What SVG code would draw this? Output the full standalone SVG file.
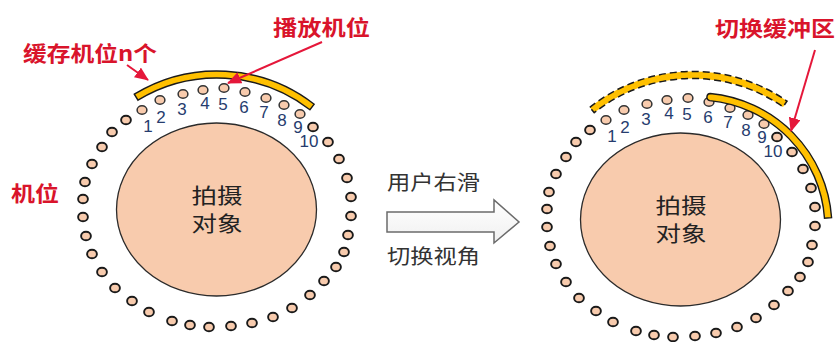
<svg xmlns="http://www.w3.org/2000/svg" width="837" height="342" viewBox="0 0 837 342">
<style>
.bg{fill:#ffffff}
.obj{fill:#F8CBAD;stroke:#2b2b2b;stroke-width:1.3}
.dot{fill:#F8CBAD;stroke:#1a1a1a;stroke-width:1.9}
.ndot{fill:#F8CBAD;stroke:#333;stroke-width:1.5}
.band{fill:#FFC000;stroke:#1a1a1a;stroke-width:1.4}
.dband{fill:#FFC000;stroke:#1a1a1a;stroke-width:1.5;stroke-dasharray:7 4}
.red{font-family:"Noto Sans CJK SC","Noto Sans",sans-serif;font-weight:bold;font-size:21px;fill:#D9142B}
.cn{font-family:"Noto Sans CJK SC","Noto Sans",sans-serif;font-size:21px;fill:#222}
.mid{font-family:"Noto Sans CJK SC","Noto Sans",sans-serif;font-size:20px;fill:#333}
.num{font-family:"Liberation Sans",Arial,sans-serif;font-size:17px;fill:#263C6E;text-anchor:middle}
.rarr{stroke:#E5173A;stroke-width:2;fill:none}
.blk{fill:url(#ag);stroke:#6b6b6b;stroke-width:1.5}
</style>
<defs>
<marker id="rh" markerUnits="userSpaceOnUse" markerWidth="14" markerHeight="12" refX="13" refY="6" orient="auto">
<path d="M0,0 L14,6 L0,12 Z" fill="#E5173A"/>
</marker>
<linearGradient id="ag" x1="0" y1="0" x2="0" y2="1">
<stop offset="0" stop-color="#ffffff"/>
<stop offset="1" stop-color="#f0f0f0"/>
</linearGradient>
</defs>
<rect class="bg" x="0" y="0" width="837" height="342"/>

<g id="left-view">
<g id="left-object">
<ellipse class="obj" cx="216.5" cy="209.5" rx="100" ry="86.5"/>
<text class="cn" x="217" y="203" text-anchor="middle" textLength="51" lengthAdjust="spacingAndGlyphs">拍摄</text>
<text class="cn" x="217" y="231" text-anchor="middle" textLength="51" lengthAdjust="spacingAndGlyphs">对象</text>
</g>
<g id="left-positions">
<ellipse class="ndot" cx="142" cy="110" rx="4.9" ry="4.3"/>
<ellipse class="ndot" cx="160" cy="100" rx="4.9" ry="4.3"/>
<ellipse class="ndot" cx="183" cy="94" rx="4.9" ry="4.3"/>
<ellipse class="ndot" cx="203" cy="90" rx="4.9" ry="4.3"/>
<ellipse class="ndot" cx="224" cy="88" rx="4.9" ry="4.3"/>
<ellipse class="ndot" cx="245" cy="92" rx="4.9" ry="4.3"/>
<ellipse class="ndot" cx="266" cy="98" rx="4.9" ry="4.3"/>
<ellipse class="ndot" cx="284" cy="105" rx="4.9" ry="4.3"/>
<ellipse class="ndot" cx="300" cy="114" rx="4.9" ry="4.3"/>
<ellipse class="dot" cx="313" cy="127" rx="4.9" ry="4.3"/>
<ellipse class="dot" cx="328" cy="142" rx="4.9" ry="4.3"/>
<ellipse class="dot" cx="339" cy="159" rx="4.9" ry="4.3"/>
<ellipse class="dot" cx="347" cy="178" rx="4.9" ry="4.3"/>
<ellipse class="dot" cx="351" cy="197" rx="4.9" ry="4.3"/>
<ellipse class="dot" cx="351" cy="216" rx="4.9" ry="4.3"/>
<ellipse class="dot" cx="348" cy="235" rx="4.9" ry="4.3"/>
<ellipse class="dot" cx="344" cy="252" rx="4.9" ry="4.3"/>
<ellipse class="dot" cx="336" cy="267" rx="4.9" ry="4.3"/>
<ellipse class="dot" cx="324" cy="281" rx="4.9" ry="4.3"/>
<ellipse class="dot" cx="310" cy="295" rx="4.9" ry="4.3"/>
<ellipse class="dot" cx="292" cy="308" rx="4.9" ry="4.3"/>
<ellipse class="dot" cx="273" cy="317" rx="4.9" ry="4.3"/>
<ellipse class="dot" cx="252" cy="323" rx="4.9" ry="4.3"/>
<ellipse class="dot" cx="231" cy="326" rx="4.9" ry="4.3"/>
<ellipse class="dot" cx="209" cy="327" rx="4.9" ry="4.3"/>
<ellipse class="dot" cx="190" cy="325" rx="4.9" ry="4.3"/>
<ellipse class="dot" cx="172" cy="321" rx="4.9" ry="4.3"/>
<ellipse class="dot" cx="149" cy="312" rx="4.9" ry="4.3"/>
<ellipse class="dot" cx="132" cy="301" rx="4.9" ry="4.3"/>
<ellipse class="dot" cx="115" cy="288" rx="4.9" ry="4.3"/>
<ellipse class="dot" cx="102" cy="272" rx="4.9" ry="4.3"/>
<ellipse class="dot" cx="92" cy="254" rx="4.9" ry="4.3"/>
<ellipse class="dot" cx="86" cy="236" rx="4.9" ry="4.3"/>
<ellipse class="dot" cx="83" cy="217" rx="4.9" ry="4.3"/>
<ellipse class="dot" cx="83" cy="199" rx="4.9" ry="4.3"/>
<ellipse class="dot" cx="85" cy="182" rx="4.9" ry="4.3"/>
<ellipse class="dot" cx="92" cy="164" rx="4.9" ry="4.3"/>
<ellipse class="dot" cx="102" cy="147" rx="4.9" ry="4.3"/>
<ellipse class="dot" cx="112" cy="132" rx="4.9" ry="4.3"/>
<ellipse class="dot" cx="126" cy="120" rx="4.9" ry="4.3"/>
</g>
<g id="left-numbers">
<text class="num" x="148" y="132">1</text>
<text class="num" x="161" y="123">2</text>
<text class="num" x="182" y="115">3</text>
<text class="num" x="205" y="109">4</text>
<text class="num" x="223" y="110">5</text>
<text class="num" x="244" y="113">6</text>
<text class="num" x="264" y="118">7</text>
<text class="num" x="282" y="126">8</text>
<text class="num" x="298" y="133">9</text>
<text class="num" x="309" y="147">10</text>
</g>
<g id="left-cache-band">
<path class="band" d="M134.3,94.2 A159,159 0 0 1 314.2,104.2 L309.9,109.7 A152,152 0 0 0 138,100.2 Z"/>
</g>
<g id="label-cache"><text class="red" x="23" y="61" textLength="134" lengthAdjust="spacingAndGlyphs">缓存机位n个</text></g>
<g id="label-play"><text class="red" x="273" y="35" textLength="97" lengthAdjust="spacingAndGlyphs">播放机位</text></g>
<g id="label-position"><text class="red" x="11" y="201" textLength="48" lengthAdjust="spacingAndGlyphs">机位</text></g>
</g>

<g id="middle-arrow">
<text class="mid" x="387" y="190" textLength="93" lengthAdjust="spacingAndGlyphs">用户右滑</text>
<polygon class="blk" points="387,212 494,212 494,200 519,222 494,243 494,232 387,232"/>
<text class="mid" x="387" y="264" textLength="93" lengthAdjust="spacingAndGlyphs">切换视角</text>
</g>

<g id="right-view">
<g id="right-object">
<ellipse class="obj" cx="680.5" cy="219.5" rx="100" ry="86.5"/>
<text class="cn" x="681" y="213" text-anchor="middle" textLength="51" lengthAdjust="spacingAndGlyphs">拍摄</text>
<text class="cn" x="681" y="241" text-anchor="middle" textLength="51" lengthAdjust="spacingAndGlyphs">对象</text>
</g>
<g id="right-dashed-band">
<path class="dband" d="M589.8,107.3 A165.2,165.2 0 0 1 787,101.1 L783,106.9 A158.2,158.2 0 0 0 594.2,112.7 Z"/>
</g>
<g id="right-positions">
<ellipse class="ndot" cx="606" cy="120" rx="4.9" ry="4.3"/>
<ellipse class="ndot" cx="624" cy="110" rx="4.9" ry="4.3"/>
<ellipse class="ndot" cx="647" cy="104" rx="4.9" ry="4.3"/>
<ellipse class="ndot" cx="667" cy="100" rx="4.9" ry="4.3"/>
<ellipse class="ndot" cx="688" cy="98" rx="4.9" ry="4.3"/>
<ellipse class="ndot" cx="709" cy="102" rx="4.9" ry="4.3"/>
<ellipse class="ndot" cx="730" cy="108" rx="4.9" ry="4.3"/>
<ellipse class="ndot" cx="748" cy="115" rx="4.9" ry="4.3"/>
<ellipse class="ndot" cx="764" cy="124" rx="4.9" ry="4.3"/>
<ellipse class="dot" cx="777" cy="137" rx="4.9" ry="4.3"/>
<ellipse class="dot" cx="792" cy="152" rx="4.9" ry="4.3"/>
<ellipse class="dot" cx="803" cy="169" rx="4.9" ry="4.3"/>
<ellipse class="dot" cx="811" cy="188" rx="4.9" ry="4.3"/>
<ellipse class="dot" cx="815" cy="207" rx="4.9" ry="4.3"/>
<ellipse class="dot" cx="815" cy="226" rx="4.9" ry="4.3"/>
<ellipse class="dot" cx="812" cy="245" rx="4.9" ry="4.3"/>
<ellipse class="dot" cx="808" cy="262" rx="4.9" ry="4.3"/>
<ellipse class="dot" cx="800" cy="277" rx="4.9" ry="4.3"/>
<ellipse class="dot" cx="788" cy="291" rx="4.9" ry="4.3"/>
<ellipse class="dot" cx="774" cy="305" rx="4.9" ry="4.3"/>
<ellipse class="dot" cx="756" cy="318" rx="4.9" ry="4.3"/>
<ellipse class="dot" cx="737" cy="327" rx="4.9" ry="4.3"/>
<ellipse class="dot" cx="716" cy="333" rx="4.9" ry="4.3"/>
<ellipse class="dot" cx="695" cy="336" rx="4.9" ry="4.3"/>
<ellipse class="dot" cx="673" cy="337" rx="4.9" ry="4.3"/>
<ellipse class="dot" cx="654" cy="335" rx="4.9" ry="4.3"/>
<ellipse class="dot" cx="636" cy="331" rx="4.9" ry="4.3"/>
<ellipse class="dot" cx="613" cy="322" rx="4.9" ry="4.3"/>
<ellipse class="dot" cx="596" cy="311" rx="4.9" ry="4.3"/>
<ellipse class="dot" cx="579" cy="298" rx="4.9" ry="4.3"/>
<ellipse class="dot" cx="566" cy="282" rx="4.9" ry="4.3"/>
<ellipse class="dot" cx="556" cy="264" rx="4.9" ry="4.3"/>
<ellipse class="dot" cx="550" cy="246" rx="4.9" ry="4.3"/>
<ellipse class="dot" cx="547" cy="227" rx="4.9" ry="4.3"/>
<ellipse class="dot" cx="547" cy="209" rx="4.9" ry="4.3"/>
<ellipse class="dot" cx="549" cy="192" rx="4.9" ry="4.3"/>
<ellipse class="dot" cx="556" cy="174" rx="4.9" ry="4.3"/>
<ellipse class="dot" cx="566" cy="157" rx="4.9" ry="4.3"/>
<ellipse class="dot" cx="576" cy="142" rx="4.9" ry="4.3"/>
<ellipse class="dot" cx="590" cy="130" rx="4.9" ry="4.3"/>
</g>
<g id="right-numbers">
<text class="num" x="612" y="142">1</text>
<text class="num" x="625" y="133">2</text>
<text class="num" x="646" y="125">3</text>
<text class="num" x="669" y="119">4</text>
<text class="num" x="687" y="120">5</text>
<text class="num" x="708" y="123">6</text>
<text class="num" x="728" y="128">7</text>
<text class="num" x="746" y="136">8</text>
<text class="num" x="762" y="143">9</text>
<text class="num" x="773" y="157">10</text>
</g>
<g id="right-switch-band">
<path class="band" d="M710.3,93.5 A134.3,134.3 0 0 1 831.6,217.7 L824.5,218.2 A127.2,127.2 0 0 0 709.7,100.6 A3.6,3.6 0 0 1 710.3,93.5 Z"/>
</g>
<g id="label-switch"><text class="red" x="715" y="36" textLength="120" lengthAdjust="spacingAndGlyphs">切换缓冲区</text></g>
</g>

<g id="connectors">
<line class="rarr" x1="127" y1="65" x2="148" y2="80" marker-end="url(#rh)"/>
<line class="rarr" x1="322" y1="42" x2="228" y2="83" marker-end="url(#rh)"/>
<line class="rarr" x1="815" y1="50" x2="791" y2="131" marker-end="url(#rh)"/>
</g>
</svg>
